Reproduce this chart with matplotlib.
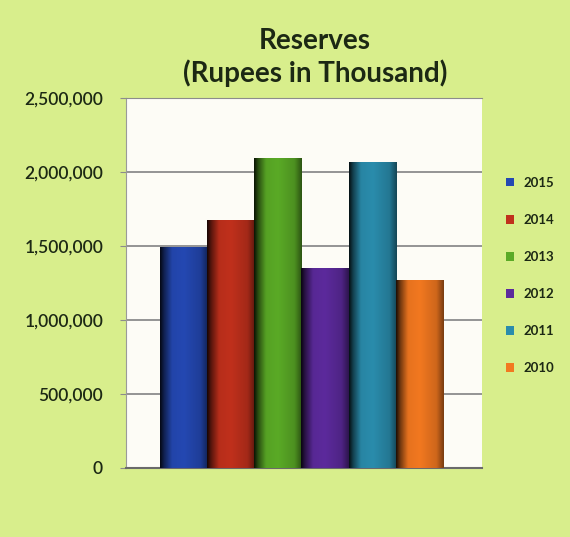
import numpy as np
import matplotlib
matplotlib.use("Agg")
import matplotlib.pyplot as plt
from matplotlib.ticker import FuncFormatter

plt.rcParams['font.family'] = ['Lato', 'DejaVu Sans']

# data (Rupees in thousand)
years = ["2015", "2014", "2013", "2012", "2011", "2010"]
reserves = [1493000, 1676000, 2095000, 1351000, 2068000, 1270000]
colors = ["#2448b2", "#c0301c", "#5aaa26", "#5c2a9c", "#2a8cac", "#f27820"]
yticks = [0, 500000, 1000000, 1500000, 2000000, 2500000]

fig = plt.figure(figsize=(5.70, 5.37), dpi=100, facecolor="#d8ee8c")
ax = fig.add_axes([126/570, 69/537, 356/570, 370/537])
ax.set_facecolor("#fdfcf6")

n = len(years)
xs = np.arange(n) - (n - 1) / 2.0
bars = ax.bar(xs, reserves, width=1.0, color=colors, label=years, zorder=3, linewidth=0)

# cylinder-like shading across each bar: dark left edge, bright middle
t = np.linspace(0, 1, 80)
shade = np.interp(t, [0, 0.08, 0.25, 0.5, 0.85, 1.0], [0.12, 0.45, 0.95, 1.0, 0.85, 0.5])
for b, c in zip(bars, colors):
    rgb = np.array(matplotlib.colors.to_rgb(c))
    img = np.clip(rgb[None, None, :] * shade[None, :, None], 0, 1)
    x0, y0 = b.get_x(), b.get_y()
    im = ax.imshow(img, extent=[x0, x0 + b.get_width(), y0, y0 + b.get_height()],
                   aspect="auto", zorder=4, interpolation="bicubic")
    im.set_clip_path(b)

ax.set_xlim(-3.72, 3.83)
ax.set_ylim(0, 2500000)
ax.set_yticks(yticks)
ax.yaxis.set_major_formatter(FuncFormatter(lambda v, p: f"{int(v):,}"))
ax.set_xticks([])
ax.grid(axis="y", color="#8c8c8c", linewidth=1.3, zorder=1)
ax.tick_params(axis="y", length=4, color="#8c8c8c", pad=12.5, labelsize=12.5,
               labelcolor="#1c2814")
for lab in ax.get_yticklabels():
    lab.set_fontweight("semibold")
ax.spines["right"].set_visible(False)
ax.spines["top"].set_color("#8c8c8c")
ax.spines["left"].set_color("#9a9a9a")
ax.spines["bottom"].set_color("#6a6a6a")
ax.spines["bottom"].set_linewidth(1.5)

fig.text(0.553, 0.893, "Reserves\n(Rupees in Thousand)", ha="center", va="center",
         fontsize=20, fontweight="bold", color="#1c2814", linespacing=1.22)

leg = ax.legend(bars, years, loc="center left", bbox_to_anchor=(1.035, 0.52),
                frameon=False, fontsize=9.5, handlelength=0.6, handleheight=0.6,
                labelspacing=1.9, handletextpad=0.7)
for txt in leg.get_texts():
    txt.set_color("#1c2814")
    txt.set_fontweight("bold")

fig.savefig("out.png", dpi=100, facecolor=fig.get_facecolor())
